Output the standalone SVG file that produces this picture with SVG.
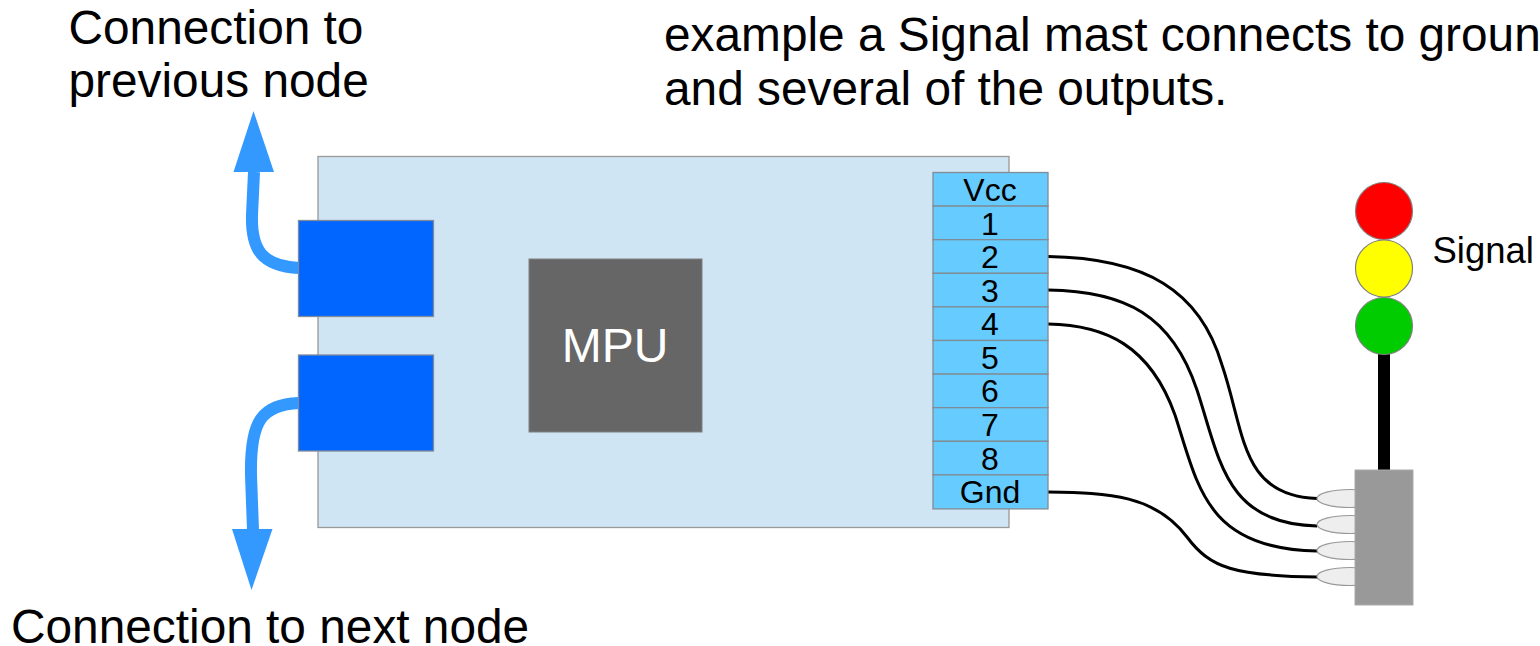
<svg xmlns="http://www.w3.org/2000/svg" width="1540" height="646" viewBox="0 0 1540 646">
<style>
text{font-family:"Liberation Sans",Arial,sans-serif;fill:#000}
.big{font-size:47.8px}
.pin{font-size:32px;text-anchor:middle}
.pinbox{fill:#66ccff;stroke:#808c96;stroke-width:1.3}
.port{fill:#0066ff;stroke:#808a9a;stroke-width:1.3}
.wire{fill:none;stroke:#000;stroke-width:3}
.flow{fill:none;stroke:#3399ff;stroke-width:12}
.head{fill:#3399ff}
.plug{fill:#eeeeee;stroke:#999;stroke-width:1.2}
.lamp{stroke:#808080;stroke-width:1.2}
</style>
<rect width="1540" height="646" fill="#fff"/>
<g id="labels">
<text class="big" x="68.500" y="44">Connection to</text>
<text class="big" x="68.500" y="97">previous node</text>
<text class="big" x="11" y="643">Connection to next node</text>
<text class="big" x="664" y="51">example a Signal mast connects to groun</text>
<text class="big" x="664" y="105">and several of the outputs.</text>
<text x="1432.500" y="263" font-size="36.500">Signal</text>
</g>
<g id="board"><rect x="318" y="156.500" width="691" height="371" fill="#cfe5f4" stroke="#999" stroke-width="1.3"/></g>
<g id="connectors">
<path class="flow" d="M299 268C262 266 251 250 252 215L254 172"/>
<path class="head" d="M253.500 111L274 172H233.500Z"/>
<path class="flow" d="M299 403C262 405 250 420 251 475L253 530"/>
<path class="head" d="M251.500 590L272.500 529H232Z"/>
<path class="wire" d="M1048 256.500C1145 258 1200 290 1222 365C1245 432 1240 496 1317 498.500"/>
<path class="wire" d="M1048 290C1125 291 1172 315 1197 390C1220 460 1225 524 1317 526"/>
<path class="wire" d="M1048 324C1105 325 1150 345 1175 415C1198 485 1205 549 1317 551"/>
<path class="wire" d="M1048 492C1110 493 1155 495 1187 537C1210 568 1235 576 1317 577"/>
</g>
<g id="port-previous"><rect class="port" x="298.500" y="220.500" width="135" height="96"/></g>
<g id="port-next"><rect class="port" x="298.500" y="355" width="135" height="96"/></g>
<g id="mpu"><rect x="529" y="259" width="173" height="173" fill="#666" stroke="#808080" stroke-width="1"/><text x="615" y="362" font-size="48" text-anchor="middle" style="fill:#fff">MPU</text></g>
<g id="pins">
<rect class="pinbox" x="933" y="172.500" width="115" height="33.600"/><text class="pin" x="990" y="201">Vcc</text>
<rect class="pinbox" x="933" y="206.100" width="115" height="33.600"/><text class="pin" x="990" y="234.500">1</text>
<rect class="pinbox" x="933" y="239.700" width="115" height="33.600"/><text class="pin" x="990" y="268">2</text>
<rect class="pinbox" x="933" y="273.300" width="115" height="33.600"/><text class="pin" x="990" y="301.500">3</text>
<rect class="pinbox" x="933" y="306.900" width="115" height="33.600"/><text class="pin" x="990" y="335">4</text>
<rect class="pinbox" x="933" y="340.500" width="115" height="33.600"/><text class="pin" x="990" y="369">5</text>
<rect class="pinbox" x="933" y="374.100" width="115" height="33.600"/><text class="pin" x="990" y="402">6</text>
<rect class="pinbox" x="933" y="407.700" width="115" height="33.600"/><text class="pin" x="990" y="436">7</text>
<rect class="pinbox" x="933" y="441.300" width="115" height="33.600"/><text class="pin" x="990" y="470">8</text>
<rect class="pinbox" x="933" y="474.900" width="115" height="34"/><text class="pin" x="990" y="503">Gnd</text>
</g>
<g id="signal">
<rect x="1378" y="350" width="12" height="122" fill="#000"/>
<ellipse class="plug" cx="1350" cy="498.500" rx="33" ry="9"/>
<ellipse class="plug" cx="1350" cy="524.500" rx="33" ry="9"/>
<ellipse class="plug" cx="1350" cy="550.500" rx="33" ry="9"/>
<ellipse class="plug" cx="1350" cy="576.500" rx="33" ry="9"/>
<rect x="1355" y="470" width="58" height="135" fill="#999" stroke="#aaa" stroke-width="1"/>
<circle class="lamp" cx="1384" cy="211" r="28.500" fill="#ff0000"/>
<circle class="lamp" cx="1384" cy="268.500" r="28.500" fill="#ffff00"/>
<circle class="lamp" cx="1384" cy="326" r="28.500" fill="#00cc00"/>
</g>
</svg>
